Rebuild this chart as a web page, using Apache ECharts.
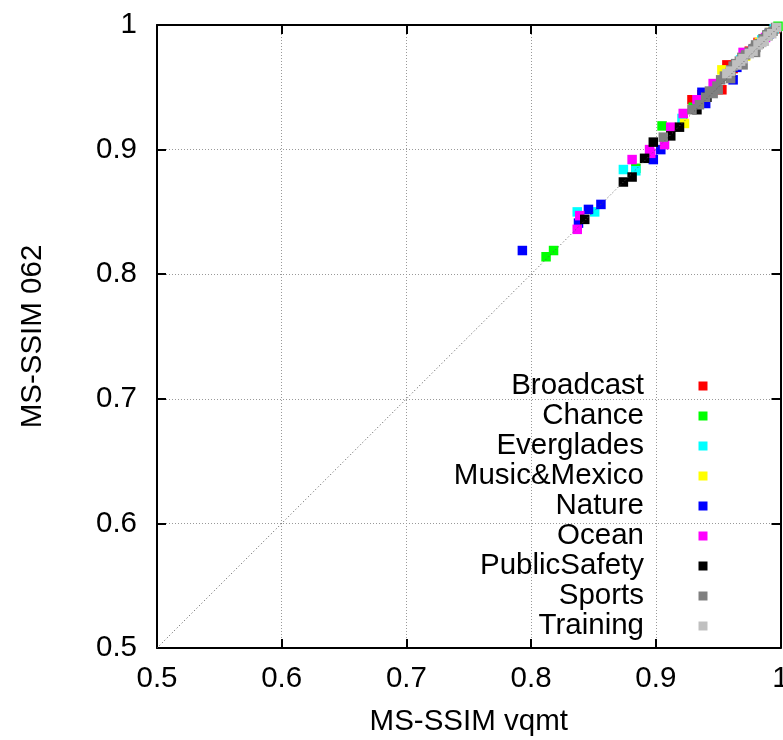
<!DOCTYPE html>
<html>
<head>
<meta charset="utf-8">
<title>MS-SSIM vqmt vs MS-SSIM 062</title>
<script src="https://cdn.jsdelivr.net/npm/echarts@6/dist/echarts.min.js"></script>
<style>
  html, body { margin: 0; padding: 0; background: #fff; }
  #chart { width: 783px; height: 740px; }
</style>
</head>
<body>
<div id="chart"></div>
<script>
// Axis ticks shared by both axes
const tickValues = [0.5, 0.6, 0.7, 0.8, 0.9, 1];

// Sequence names and their marker colours
const sequenceNames = ['Broadcast', 'Chance', 'Everglades', 'Music&Mexico', 'Nature', 'Ocean', 'PublicSafety', 'Sports', 'Training'];
const sequenceColors = ['#ff0000', '#00ff00', '#00ffff', '#ffff00', '#0000ff', '#ff00ff', '#000000', '#808080', '#c0c0c0'];

// [MS-SSIM vqmt, MS-SSIM 062] per sequence
const broadcast = [[0.929, 0.940], [0.937, 0.944], [0.953, 0.948], [0.957, 0.968], [0.962, 0.965], [0.975, 0.979], [0.982, 0.986], [0.990, 0.992], [0.996, 0.997]];
const chance = [[0.812, 0.814], [0.818, 0.819], [0.884, 0.885], [0.905, 0.919], [0.930, 0.934], [0.955, 0.959], [0.975, 0.978], [0.990, 0.992], [0.998, 0.999]];
const everglades = [[0.837, 0.850], [0.851, 0.850], [0.874, 0.884], [0.884, 0.883], [0.921, 0.925], [0.948, 0.952], [0.968, 0.972], [0.985, 0.988], [0.995, 0.997]];
const musicMexico = [[0.923, 0.921], [0.953, 0.964], [0.960, 0.962], [0.972, 0.975], [0.983, 0.986], [0.992, 0.994]];
const nature = [[0.793, 0.819], [0.838, 0.841], [0.846, 0.852], [0.856, 0.856], [0.898, 0.892], [0.904, 0.900], [0.937, 0.946], [0.940, 0.937], [0.962, 0.956], [0.965, 0.966], [0.978, 0.980], [0.991, 0.993]];
const ocean = [[0.837, 0.836], [0.839, 0.847], [0.881, 0.892], [0.895, 0.900], [0.896, 0.897], [0.907, 0.904], [0.912, 0.918], [0.922, 0.929], [0.933, 0.940], [0.946, 0.953], [0.970, 0.978], [0.988, 0.990]];
const publicSafety = [[0.843, 0.844], [0.874, 0.874], [0.881, 0.878], [0.891, 0.893], [0.898, 0.906], [0.912, 0.911], [0.919, 0.918], [0.933, 0.932], [0.941, 0.942], [0.945, 0.946], [0.960, 0.962], [0.980, 0.982]];
const sports = [[0.906, 0.910], [0.929, 0.932], [0.935, 0.936], [0.940, 0.942], [0.943, 0.947], [0.946, 0.945], [0.949, 0.951], [0.950, 0.948],
  [0.952, 0.956], [0.955, 0.959], [0.958, 0.960], [0.960, 0.957], [0.960, 0.964], [0.962, 0.967], [0.964, 0.969], [0.967, 0.971],
  [0.969, 0.974], [0.970, 0.968], [0.972, 0.976], [0.975, 0.978], [0.978, 0.981], [0.980, 0.978], [0.980, 0.984], [0.983, 0.985],
  [0.986, 0.989], [0.989, 0.992], [0.991, 0.994], [0.994, 0.995], [0.996, 0.998]];
const training = [[0.957, 0.961], [0.960, 0.963], [0.965, 0.968], [0.968, 0.971], [0.970, 0.973], [0.975, 0.977], [0.978, 0.979],
  [0.982, 0.984], [0.985, 0.986], [0.987, 0.987], [0.990, 0.991], [0.993, 0.993], [0.997, 0.998]];

const sequenceData = [broadcast, chance, everglades, musicMexico, nature, ocean, publicSafety, sports, training];

// Reference line y = x
const diagonal = [[0.5, 0.5], [1, 1]];

const FONT = 'Liberation Sans, Arial, sans-serif';
const FS = 29.5;
const axisMin = tickValues[0];
const axisMax = tickValues[tickValues.length - 1];
const step = 0.1;

const gridLine = { show: true, lineStyle: { color: '#999', width: 1, type: [1, 2] } };
const frameLine = { show: true, onZero: false, lineStyle: { color: '#000', width: 2 } };
const innerTick = { show: true, inside: true, length: 9, lineStyle: { color: '#000', width: 2 } };

function valueAxis(extra) {
  return Object.assign({
    type: 'value',
    min: axisMin,
    max: axisMax,
    interval: step,
    axisLine: frameLine,
    axisTick: innerTick,
    splitLine: { show: false }
  }, extra);
}

const scatterSeries = sequenceNames.map((name, i) => ({
  name: name,
  type: 'scatter',
  xAxisIndex: 0,
  yAxisIndex: 0,
  symbol: 'rect',
  symbolSize: 9.5,
  data: sequenceData[i],
  itemStyle: { color: sequenceColors[i], opacity: 1 },
  z: 2
}));

const option = {
  animation: false,
  backgroundColor: '#fff',
  textStyle: { fontFamily: FONT },
  grid: {
    left: 157,
    top: 25,
    right: 2.5,
    bottom: 92,
    outerBoundsMode: 'none',
    containLabel: false
  },
  legend: {
    orient: 'vertical',
    right: 75.5,
    top: 371,
    padding: 0,
    itemGap: 0,
    itemWidth: 9,
    itemHeight: 9,
    align: 'right',
    selectedMode: false,
    icon: 'rect',
    data: sequenceNames,
    textStyle: {
      fontFamily: FONT,
      fontSize: FS,
      color: '#000',
      lineHeight: 30,
      padding: [0, 49.5, 0, 0]
    }
  },
  xAxis: [
    valueAxis({
      position: 'bottom',
      name: 'MS-SSIM vqmt',
      nameLocation: 'middle',
      nameGap: 59,
      nameTextStyle: { fontFamily: FONT, fontSize: FS, color: '#000' },
      axisLabel: { fontFamily: FONT, fontSize: FS, color: '#000', margin: 16 },
      splitLine: gridLine
    }),
    valueAxis({
      position: 'top',
      axisLabel: { show: false }
    })
  ],
  yAxis: [
    valueAxis({
      position: 'left',
      name: 'MS-SSIM 062',
      nameLocation: 'middle',
      nameGap: 109,
      nameRotate: 90,
      nameTextStyle: { fontFamily: FONT, fontSize: FS, color: '#000' },
      axisLabel: { fontFamily: FONT, fontSize: FS, color: '#000', margin: 20 },
      splitLine: gridLine
    }),
    valueAxis({
      position: 'right',
      axisLabel: { show: false }
    })
  ],
  series: scatterSeries.concat([{
    name: 'y=x',
    type: 'line',
    xAxisIndex: 0,
    yAxisIndex: 0,
    data: diagonal,
    symbol: 'none',
    silent: true,
    lineStyle: { color: '#555', width: 1, type: [1, 2.5] },
    z: 5
  }])
};

const chart = echarts.init(document.getElementById('chart'), null, { renderer: 'canvas' });
chart.setOption(option);
</script>
</body>
</html>
